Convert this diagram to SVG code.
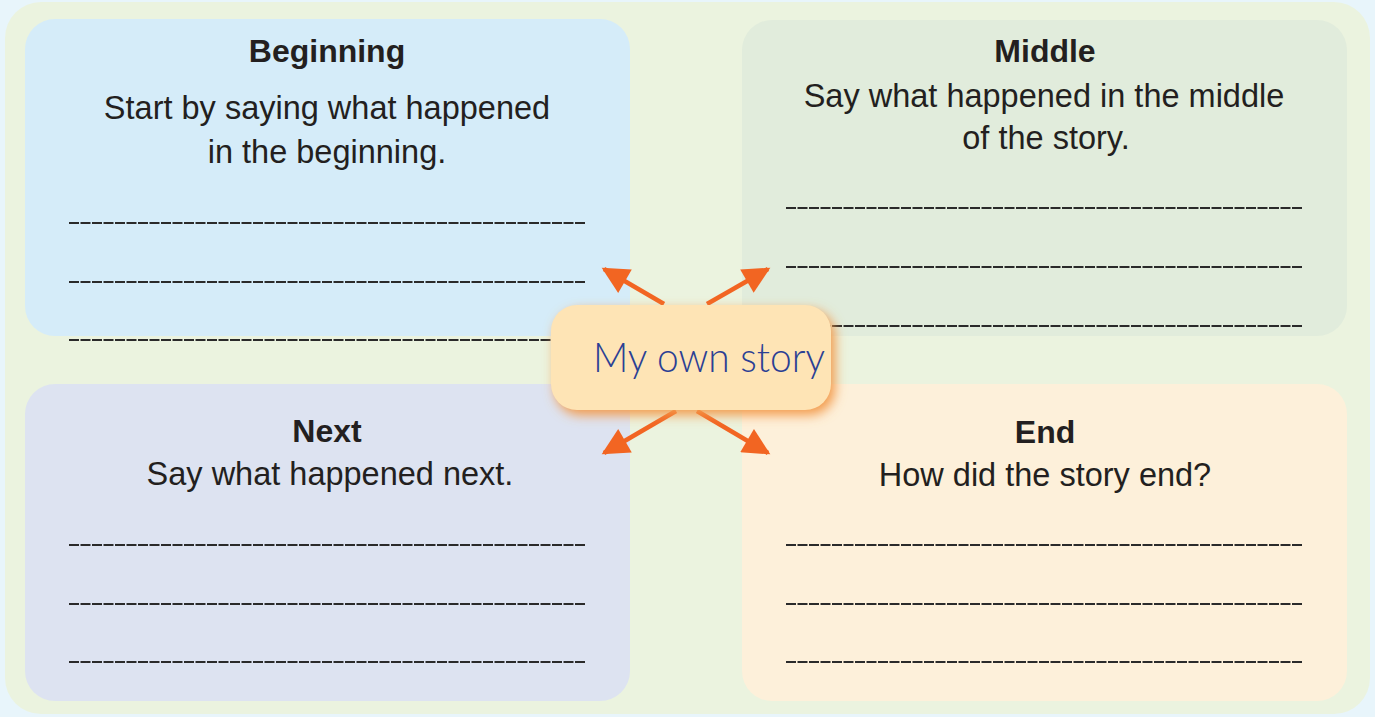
<svg xmlns="http://www.w3.org/2000/svg" width="1375" height="717" viewBox="0 0 1375 717">
<defs>
<style>
.h{font-family:"Liberation Sans",Arial,sans-serif;font-weight:bold;font-size:32px;fill:#231f20;text-anchor:middle}
.t{font-family:"Liberation Sans",Arial,sans-serif;font-size:32.5px;fill:#231f20;text-anchor:middle}
.ln{stroke:#2a2a2a;stroke-width:2;stroke-dasharray:10 1.5}
.ar{stroke:#f26522;stroke-width:4.5;fill:none;marker-end:url(#ah)}
</style>
<marker id="ah" viewBox="0 0 10 10" refX="9" refY="5" markerWidth="7" markerHeight="6" orient="auto" markerUnits="strokeWidth">
<path d="M0,0 L10,5 L0,10 z" fill="#f26522"/>
</marker>
<filter id="sh" x="-20%" y="-30%" width="140%" height="170%">
<feGaussianBlur in="SourceAlpha" stdDeviation="6" result="b"/>
<feOffset in="b" dx="4" dy="5" result="o"/>
<feFlood flood-color="#f39a4a"/>
<feComposite operator="in" in2="o"/>
</filter>
</defs>
<rect x="0" y="0" width="1375" height="717" fill="#e8f5fb"/>
<rect x="5" y="2" width="1365" height="712" rx="36" fill="#ebf3df"/>
<g id="beginning">
<rect x="25" y="19" width="605" height="317" rx="30" fill="#d5ecf9"/>
<text class="h" x="327" y="62">Beginning</text>
<text class="t" x="327" y="119">Start by saying what happened</text>
<text class="t" x="327" y="163">in the beginning.</text>
<line class="ln" x1="69" y1="223" x2="586" y2="223"/>
<line class="ln" x1="69" y1="282" x2="586" y2="282"/>
<line class="ln" x1="69" y1="340" x2="586" y2="340"/>
</g>
<g id="middle">
<rect x="742" y="20" width="605" height="316" rx="30" fill="#e1ecdc"/>
<text class="h" x="1045" y="62">Middle</text>
<text class="t" x="1044" y="107">Say what happened in the middle</text>
<text class="t" x="1046" y="149">of the story.</text>
<line class="ln" x1="786" y1="208" x2="1303" y2="208"/>
<line class="ln" x1="786" y1="267" x2="1303" y2="267"/>
<line class="ln" x1="786" y1="326" x2="1303" y2="326"/>
</g>
<g id="next">
<rect x="25" y="384" width="605" height="317" rx="30" fill="#dde3f1"/>
<text class="h" x="327" y="442">Next</text>
<text class="t" x="330" y="485">Say what happened next.</text>
<line class="ln" x1="69" y1="545" x2="586" y2="545"/>
<line class="ln" x1="69" y1="604" x2="586" y2="604"/>
<line class="ln" x1="69" y1="662" x2="586" y2="662"/>
</g>
<g id="end">
<rect x="742" y="384" width="605" height="317" rx="30" fill="#fdf0da"/>
<text class="h" x="1045" y="443">End</text>
<text class="t" x="1045" y="486">How did the story end?</text>
<line class="ln" x1="786" y1="545" x2="1303" y2="545"/>
<line class="ln" x1="786" y1="604" x2="1303" y2="604"/>
<line class="ln" x1="786" y1="662" x2="1303" y2="662"/>
</g>
<g id="connectors">
<line class="ar" x1="664" y1="304" x2="604" y2="269"/>
<line class="ar" x1="707" y1="304" x2="768" y2="269"/>
<line class="ar" x1="676" y1="411" x2="604" y2="453"/>
<line class="ar" x1="697" y1="411" x2="768" y2="453"/>
</g>
<g id="center">
<rect x="551" y="305" width="280" height="105" rx="26" fill="#f7a95a" filter="url(#sh)"/>
<rect x="551" y="305" width="280" height="105" rx="26" fill="#fee4b5"/>
<text x="593" y="372" font-family="Lato,'Liberation Sans',sans-serif" font-weight="300" font-size="42" fill="#2b3f94" textLength="232" lengthAdjust="spacingAndGlyphs">My own story</text>
</g>
</svg>
